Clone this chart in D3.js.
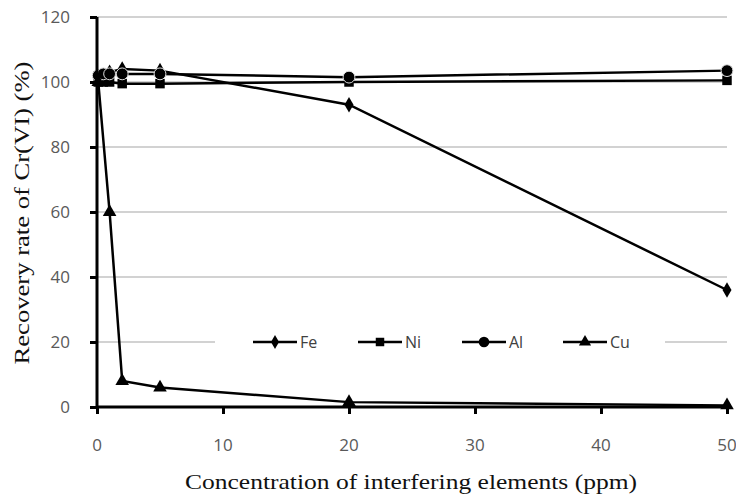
<!DOCTYPE html>
<html>
<head>
<meta charset="utf-8">
<script src="https://cdnjs.cloudflare.com/ajax/libs/d3/7.8.5/d3.min.js"></script>
<style>
  body { margin: 0; background: #fff; }
  .tlabel { fill: #595959; font-size: 17px; font-family: "Open Sans", sans-serif; }
  .ltext { fill: #404040; font-size: 16px; font-family: "Open Sans", sans-serif; }
  .title { fill: #111; font-size: 21px; font-family: "Liberation Serif", serif; }
</style>
</head>
<body>
<div id="chart"></div>
<script>
// concentration (ppm) and recovery (%) per interfering element
let feX = [0.1, 0.5, 1, 2, 5, 20, 50];
let feY = [101, 102, 103, 104, 103.5, 93, 36];
let niX = [0.1, 0.5, 1, 2, 5, 20, 50];
let niY = [100, 100, 100, 99.5, 99.5, 100, 100.5];
let alX = [0.1, 0.5, 1, 2, 5, 20, 50];
let alY = [102, 102.5, 102.5, 102.5, 102.5, 101.5, 103.5];
let cuX = [0.1, 1, 2, 5, 20, 50];
let cuY = [100, 60, 8, 6, 1.5, 0.5];

let xTicks = [0, 10, 20, 30, 40, 50];
let yTicks = [0, 20, 40, 60, 80, 100, 120];
let seriesNames = ["Fe", "Ni", "Al", "Cu"];

let margin = {top: 17, bottom: 91, left: 97, right: 9};
let width = 736, height = 498;
let w = width - margin.left - margin.right;
let h = height - margin.top - margin.bottom;

let svg = d3.select("#chart").append("svg")
    .attr("width", width)
    .attr("height", height);

let g = svg.append("g")
    .attr("transform", "translate(" + margin.left + "," + margin.top + ")");

let x = d3.scaleLinear().domain([0, 50]).range([0, w]);
let y = d3.scaleLinear().domain([0, 120]).range([h, 0]);

// gridlines
g.append("g")
    .selectAll("line")
    .data(yTicks.filter(function(d) { return d > 0; }))
    .enter().append("line")
        .attr("x1", 0)
        .attr("x2", w)
        .attr("y1", function(d) { return y(d); })
        .attr("y2", function(d) { return y(d); })
        .attr("stroke", "#a6a6a6")
        .attr("stroke-width", 1.2);

// series
let series = [
    {name: "Fe", xs: feX, ys: feY, shape: d3.symbolDiamond, size: 70},
    {name: "Ni", xs: niX, ys: niY, shape: d3.symbolSquare, size: 90},
    {name: "Al", xs: alX, ys: alY, shape: d3.symbolCircle, size: 110},
    {name: "Cu", xs: cuX, ys: cuY, shape: d3.symbolTriangle, size: 80}
];

let line = d3.line()
    .x(function(d) { return x(d[0]); })
    .y(function(d) { return y(d[1]); });

series.forEach(function(s) {
    let pts = s.xs.map(function(v, i) { return [v, s.ys[i]]; });
    g.append("path")
        .datum(pts)
        .attr("d", line)
        .attr("fill", "none")
        .attr("stroke", "#000")
        .attr("stroke-width", 2.5);
    g.append("g")
        .selectAll("path")
        .data(pts)
        .enter().append("path")
            .attr("d", d3.symbol().type(s.shape).size(s.size))
            .attr("transform", function(d) { return "translate(" + x(d[0]) + "," + y(d[1]) + ")"; })
            .attr("fill", "#000")
            .attr("stroke", s.name === "Al" ? "#ddd" : "none")
            .attr("stroke-width", 1);
});

// axes (lines and ticks from d3, labels placed below)
let xAxis = d3.axisBottom(x).tickValues(xTicks).tickSize(7).tickFormat("");
let yAxis = d3.axisLeft(y).tickValues(yTicks).tickSize(7).tickFormat("");

let gx = g.append("g")
    .attr("transform", "translate(0," + h + ")")
    .call(xAxis);
let gy = g.append("g").call(yAxis);

[gx, gy].forEach(function(a) {
    a.select(".domain").attr("stroke", "#000").attr("stroke-width", 3);
    a.selectAll(".tick line").attr("stroke", "#000").attr("stroke-width", 3);
});
gx.select(".domain").attr("d", "M0,0H" + w);
gy.select(".domain").attr("d", "M0,0V" + h);

g.append("g")
    .selectAll("text")
    .data(xTicks)
    .enter().append("text")
        .attr("class", "tlabel")
        .attr("x", function(d) { return x(d); })
        .attr("y", h + 44)
        .attr("text-anchor", "middle")
        .text(function(d) { return d; });

g.append("g")
    .selectAll("text")
    .data(yTicks)
    .enter().append("text")
        .attr("class", "tlabel")
        .attr("x", -27)
        .attr("y", function(d) { return y(d) + 6; })
        .attr("text-anchor", "end")
        .text(function(d) { return d; });

// legend
let legend = g.append("g")
    .attr("transform", "translate(0," + y(20) + ")");
legend.append("rect")
    .attr("x", 118)
    .attr("y", -12)
    .attr("width", 450)
    .attr("height", 24)
    .attr("fill", "#fff");

let legendX = [156, 261, 365, 466];
series.forEach(function(s, i) {
    let lg = legend.append("g").attr("transform", "translate(" + legendX[i] + ",0)");
    lg.append("line")
        .attr("x1", 0).attr("x2", 44)
        .attr("y1", 0).attr("y2", 0)
        .attr("stroke", "#000")
        .attr("stroke-width", 2.5);
    lg.append("path")
        .attr("d", d3.symbol().type(s.shape).size(s.size * 0.8))
        .attr("transform", "translate(22,0)")
        .attr("fill", "#000");
    lg.append("text")
        .attr("class", "ltext")
        .attr("x", 47)
        .attr("y", 5.5)
        .text(seriesNames[i]);
});

// axis titles
svg.append("text")
    .attr("class", "title")
    .attr("x", 411)
    .attr("y", 489)
    .attr("text-anchor", "middle")
    .attr("textLength", 452)
    .attr("lengthAdjust", "spacingAndGlyphs")
    .text("Concentration of interfering elements (ppm)");

svg.append("text")
    .attr("class", "title")
    .attr("transform", "translate(29,213) rotate(-90)")
    .attr("text-anchor", "middle")
    .attr("textLength", 303)
    .attr("lengthAdjust", "spacingAndGlyphs")
    .text("Recovery rate of Cr(VI) (%)");
</script>
</body>
</html>
